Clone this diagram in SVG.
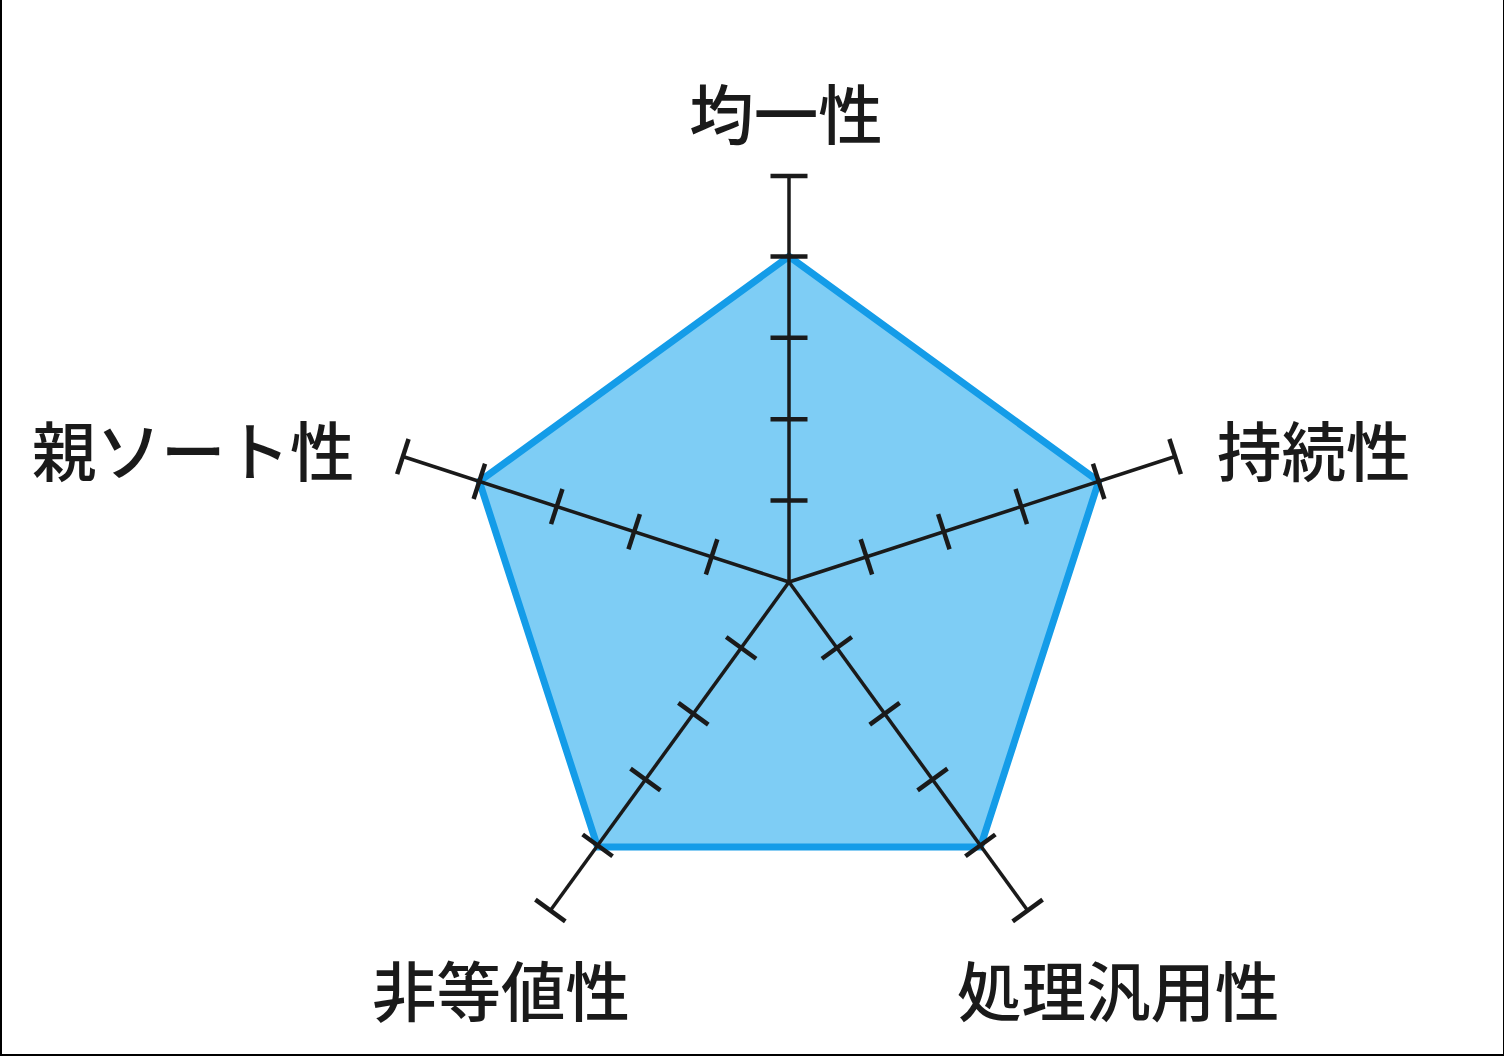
<svg xmlns="http://www.w3.org/2000/svg" width="1504" height="1056" viewBox="0 0 1504 1056">
  <style>
    .lbl { font-family: "Noto Sans CJK JP", "Noto Sans", sans-serif; font-size: 64.5px; font-weight: 500; fill: #1a1a1a; }
    .axis { stroke: #1a1a1a; stroke-width: 3.5; fill: none; }
    .tick { stroke: #1a1a1a; stroke-width: 4.5; fill: none; }
    .area { fill: #7ecdf5; stroke: #149ce8; stroke-width: 7; stroke-linejoin: miter; }
  </style>
  <defs>
    <g id="axisShape">
      <line class="axis" x1="789" y1="582" x2="789" y2="176"/>
      <line class="tick" x1="770.5" y1="500.6" x2="807.5" y2="500.6"/>
      <line class="tick" x1="770.5" y1="419.2" x2="807.5" y2="419.2"/>
      <line class="tick" x1="770.5" y1="337.8" x2="807.5" y2="337.8"/>
      <line class="tick" x1="770.5" y1="256.4" x2="807.5" y2="256.4"/>
      <line class="tick" x1="770.5" y1="176" x2="807.5" y2="176"/>
    </g>
  </defs>
  <rect x="0" y="0" width="1504" height="1056" fill="#000000"/>
  <rect x="2" y="0" width="1501" height="1054" fill="#ffffff"/>

  <g id="data-area">
    <polygon class="area" points="789,256.4 1098.7,481.4 980.4,847 597.6,847 479.3,481.4"/>
  </g>

  <g id="connectors">
    <use href="#axisShape"/>
    <use href="#axisShape" transform="rotate(72 789 582)"/>
    <use href="#axisShape" transform="rotate(144 789 582)"/>
    <use href="#axisShape" transform="rotate(216 789 582)"/>
    <use href="#axisShape" transform="rotate(288 789 582)"/>
  </g>

  <g id="label-uniformity"><text class="lbl" x="786" y="139" text-anchor="middle">均一性</text></g>
  <g id="label-sustainability"><text class="lbl" x="1217" y="476">持続性</text></g>
  <g id="label-generality"><text class="lbl" x="957" y="1016">処理汎用性</text></g>
  <g id="label-nonequal"><text class="lbl" x="372" y="1016">非等値性</text></g>
  <g id="label-parentsort"><text class="lbl" x="32" y="476">親ソート性</text></g>
</svg>
